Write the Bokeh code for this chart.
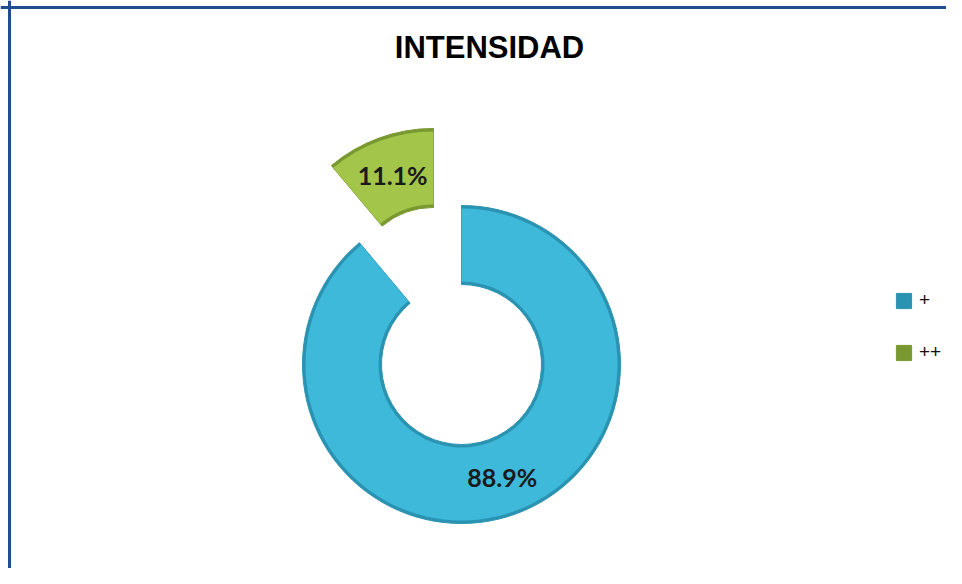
import numpy as np
from bokeh.plotting import figure
from bokeh.models import ColumnDataSource, Range1d, Span, Label, Legend, LegendItem
from bokeh.core.properties import value
from bokeh.embed import file_html
from bokeh.resources import INLINE

# ---- data ----
title = "INTENSIDAD"
categories = ["+", "++"]
shares = [88.9, 11.1]
labels = ["88.9%", "11.1%"]
explode = [0.0, 82.0]          # px offset of each slice from the centre
colors = ["#3EB9D9", "#A2C54A"]
edge_colors = ["#2B93B2", "#7A9830"]

W, H = 946, 568
cx, cy = 461.0, 204.0          # donut centre (data units = pixels)
r_in, r_out = 80.0, 159.0

p = figure(width=W, height=H, output_backend="svg", toolbar_location=None,
           x_range=Range1d(0, W), y_range=Range1d(0, H),
           x_axis_type=None, y_axis_type=None, min_border=0,
           title_location=None)
p.grid.visible = False
p.outline_line_color = None
p.background_fill_color = "white"
p.border_fill_color = "white"

# Excel-style: first slice starts at 12 o'clock, going clockwise
fr = np.array(shares) / np.sum(shares)
ends = np.pi / 2 - np.concatenate([[0], np.cumsum(fr)[:-1]]) * 2 * np.pi
starts = ends - fr * 2 * np.pi
mids = (starts + ends) / 2
xs = cx + np.array(explode) * np.cos(mids)
ys = cy + np.array(explode) * np.sin(mids)

src = ColumnDataSource(dict(x=xs, y=ys, start=starts, end=ends, color=colors,
                            edge=edge_colors, cat=categories))
# shaded base (edges), then lighter inset body for a slight bevel look
base = p.annular_wedge(x="x", y="y", inner_radius=r_in, outer_radius=r_out,
                       start_angle="start", end_angle="end", source=src,
                       fill_color="edge", line_color="edge", line_width=1)
p.annular_wedge(x="x", y="y", inner_radius=r_in + 3, outer_radius=r_out - 3,
                start_angle="start", end_angle="end", source=src,
                fill_color="color", line_color=None)

# labels at the middle of each ring section
r_mid = (r_in + r_out) / 2
lab_src = ColumnDataSource(dict(x=xs + r_mid * np.cos(mids), y=ys + r_mid * np.sin(mids),
                                t=labels))
p.text(x="x", y="y", text="t", source=lab_src, text_align="center",
       text_baseline="middle", text_font=value("Lato"), text_font_style="bold",
       text_font_size="25px", text_color="#1a1a1a")

# title
p.add_layout(Label(x=489, y=521, text=title, text_align="center", text_baseline="middle",
                   text_font="Liberation Sans", text_font_style="bold",
                   text_font_size="31px", text_color="black"))

# legend
items = [LegendItem(label=c, renderers=[base], index=i) for i, c in enumerate(categories)]
leg = Legend(items=items, location=(894, 205), orientation="vertical",
             glyph_width=19, glyph_height=19, spacing=30, label_standoff=6,
             padding=0, margin=0, border_line_color=None, background_fill_alpha=0,
             label_text_font="Liberation Sans", label_text_font_size="19px",
             label_text_color="#111111", label_height=20)
p.add_layout(leg, "center")

# chart border (left and top edges visible in the reference)
p.add_layout(Span(location=9, dimension="height", line_color="#1F4E8C", line_width=3))
p.add_layout(Span(location=H - 7, dimension="width", line_color="#1F4E8C", line_width=3))

open("out.html", "w").write(file_html(p, INLINE))
